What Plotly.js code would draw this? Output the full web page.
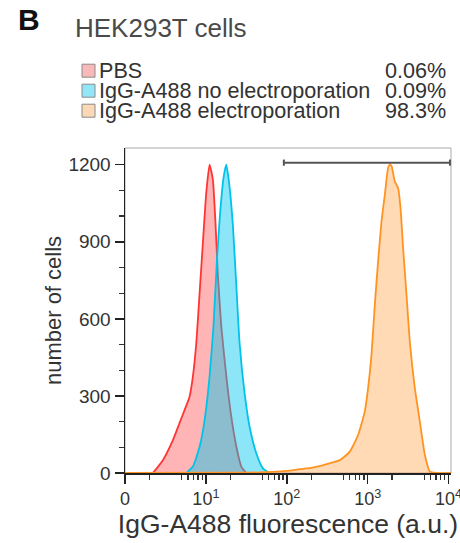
<!DOCTYPE html>
<html>
<head>
<meta charset="utf-8">
<script src="https://cdn.plot.ly/plotly-3.0.1.min.js"></script>
<style>
  html, body { margin: 0; padding: 0; background: #fff; }
  #chart { width: 460px; height: 543px; }
</style>
</head>
<body>
<div id="chart"></div>
<script>
// ---- data ----
const seriesNames = ["PBS", "IgG-A488 no electroporation", "IgG-A488 electroporation"];
const seriesPercents = ["0.06%", "0.09%", "98.3%"];

const fluoPBS  = [2.21, 2.94, 3.91, 4.73, 5.45, 6.28, 6.90, 7.61, 8.36, 9.18, 10.1, 11.1, 12.2, 13.2, 14.1, 15.5, 17.9, 20.6, 23.8, 27.4, 31.6];
const cellsPBS = [0, 50, 128, 195, 245, 297, 375, 506, 700, 896, 1090, 1200, 1141, 960, 765, 570, 375, 219, 102, 25, 0];

const fluoNoEP  = [5.72, 6.90, 8.36, 9.64, 11.1, 12.4, 13.7, 15.1, 16.6, 17.9, 19.6, 21.6, 23.8, 26.1, 30.1, 34.7, 42.0, 50.7, 61.4];
const cellsNoEP = [0, 25, 102, 206, 375, 570, 830, 1025, 1154, 1200, 1115, 960, 726, 505, 310, 180, 77, 18, 0];

const fluoEP  = [1, 20, 45, 66.8, 100, 145, 200, 312, 452, 601, 761, 920, 1012, 1114, 1224, 1345, 1482, 1629, 1787, 1880, 1972, 2163, 2377, 2547, 2742, 3020, 3319, 3828, 4416, 5093, 5875, 7096, 10700];
const cellsEP = [0, 1, 2, 4, 8, 15, 20, 35, 50, 83, 148, 239, 330, 460, 654, 823, 979, 1083, 1187, 1200, 1195, 1135, 1109, 1031, 875, 693, 511, 330, 200, 70, 5, 0, 0];

const gateRange = [92, 10400];   // gate bar extent (a.u.)
const gateLevel = 1208;          // gate bar height (cells)
const gateCap = 12;              // half height of the end caps (cells)

const yTickVals = [0, 300, 600, 900, 1200];
const xTickVals = [1, 10, 100, 1000, 10000];
const xTickText = ["0", "10<sup>1</sup>", "10<sup>2</sup>", "10<sup>3</sup>", "10<sup>4</sup>"];
const xMinorMantissas = [2, 5, 6, 7, 8, 9];
const xDecades = [1, 10, 100, 1000];

// ---- styles ----
const lineColors = ["#ff3535", "#00c3ea", "#ff9322"];
const fillColors = ["rgba(255,60,60,0.38)", "rgba(0,200,240,0.45)", "rgba(255,150,40,0.35)"];
const swatchColors = ["#f9b9b9", "#93e6f5", "#fcd9b6"];
const FONT = "Liberation Sans, Arial, Helvetica, sans-serif";

const W = 460, H = 543;
const M = {l: 125, r: 9, t: 148, b: 70};
const PW = W - M.l - M.r, PH = H - M.t - M.b;
const px2x = px => (px - M.l) / PW;
const py2y = py => (H - M.b - py) / PH;

const xMinor = [];
xDecades.forEach(d => xMinorMantissas.forEach(m => xMinor.push(m * d)));

function histTrace(x, y, i) {
  return {
    type: "scatter", mode: "lines", x: x, y: y,
    fill: "tozeroy", fillcolor: fillColors[i],
    line: {color: lineColors[i], width: 1.8, shape: "spline", smoothing: 0.5},
    name: seriesNames[i], showlegend: false, hoverinfo: "skip"
  };
}

const gateTrace = {
  type: "scatter", mode: "lines",
  x: [gateRange[0], gateRange[0], null, gateRange[0], gateRange[1], null, gateRange[1], gateRange[1]],
  y: [gateLevel - gateCap, gateLevel + gateCap, null, gateLevel, gateLevel, null, gateLevel - gateCap, gateLevel + gateCap],
  line: {color: "#555555", width: 2}, showlegend: false, hoverinfo: "skip", cliponaxis: false
};

const data = [
  histTrace(fluoPBS, cellsPBS, 0),
  histTrace(fluoNoEP, cellsNoEP, 1),
  histTrace(fluoEP, cellsEP, 2),
  gateTrace
];

const annotations = [
  {text: "<b>B</b>", xref: "paper", yref: "paper", x: px2x(16), y: py2y(19),
   xanchor: "left", yanchor: "middle", showarrow: false, font: {family: FONT, size: 30, color: "#111"}},
  {text: "HEK293T cells", xref: "paper", yref: "paper", x: px2x(73), y: py2y(28),
   xanchor: "left", yanchor: "middle", showarrow: false, font: {family: FONT, size: 26, color: "#4a4a4a"}}
];
const shapes = [
  {type: "rect", xref: "paper", yref: "paper", x0: 0, x1: 1, y0: 0, y1: 1,
   line: {color: "#aaaaaa", width: 1}, layer: "below"}
];
seriesNames.forEach((name, i) => {
  const cy = 70.7 + 20 * i;
  shapes.push({type: "rect", xref: "paper", yref: "paper",
    x0: px2x(82), x1: px2x(95), y0: py2y(cy + 6.5), y1: py2y(cy - 6.5),
    fillcolor: swatchColors[i], line: {color: "#8a8a8a", width: 1}});
  annotations.push({text: name, xref: "paper", yref: "paper", x: px2x(97), y: py2y(cy),
    xanchor: "left", yanchor: "middle", showarrow: false,
    font: {family: FONT, size: 21.6, color: "#333"}});
  annotations.push({text: seriesPercents[i], xref: "paper", yref: "paper", x: px2x(448), y: py2y(cy),
    xanchor: "right", yanchor: "middle", showarrow: false,
    font: {family: FONT, size: 21.6, color: "#333"}});
});

const layout = {
  width: W, height: H,
  margin: M,
  paper_bgcolor: "#fff", plot_bgcolor: "#fff",
  font: {family: FONT, color: "#333"},
  showlegend: false,
  xaxis: {
    type: "log", range: [0, 4.03],
    tickmode: "array", tickvals: xTickVals, ticktext: xTickText,
    ticklabeloverflow: "allow",
    ticks: "outside", ticklen: 9, tickwidth: 1.5, tickcolor: "#222",
    minor: {tickmode: "array", tickvals: xMinor, ticks: "outside", ticklen: 5, tickwidth: 1.2, tickcolor: "#333"},
    showline: true, linecolor: "#222", linewidth: 1.5,
    showgrid: false, zeroline: false,
    tickfont: {family: FONT, size: 18, color: "#333"},
    title: {text: "IgG-A488 fluorescence (a.u.)", font: {family: FONT, size: 26.5, color: "#333"}, standoff: 5}
  },
  yaxis: {
    range: [0, 1265],
    tickmode: "array", tickvals: yTickVals,
    ticks: "outside", ticklen: 9, tickwidth: 1.5, tickcolor: "#222",
    minor: {dtick: 100, tick0: 0, ticks: "outside", ticklen: 5, tickwidth: 1.2, tickcolor: "#333"},
    showline: true, linecolor: "#222", linewidth: 1.5,
    showgrid: false, zeroline: false,
    tickfont: {family: FONT, size: 19, color: "#333"},
    title: {text: "number of cells", font: {family: FONT, size: 22, color: "#333"}, standoff: 0}
  },
  shapes: shapes,
  annotations: annotations
};

Plotly.newPlot("chart", data, layout, {staticPlot: true, displayModeBar: false});
</script>
</body>
</html>
